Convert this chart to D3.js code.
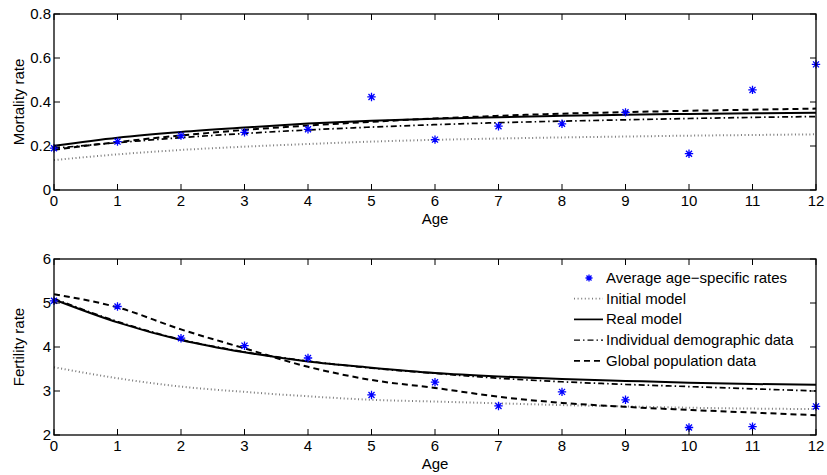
<!DOCTYPE html>
<html>
<head>
    <script src="https://d3js.org/d3.v7.min.js"></script>
    <style>
        body { margin: 0; background: #fff; }
        text { font-family: "Liberation Sans", Arial, sans-serif; font-size: 15px; fill: #000; }
    </style>
</head>
<body>
    <div id="chart"></div>
    <script>
        const ages = [0, 1, 2, 3, 4, 5, 6, 7, 8, 9, 10, 11, 12];

        // mortality panel
        const mortAvg = [0.19, 0.22, 0.247, 0.262, 0.276, 0.423, 0.229, 0.29, 0.301, 0.353, 0.165, 0.455, 0.571];
        const mortInitial = [0.136, 0.162, 0.182, 0.197, 0.209, 0.22, 0.228, 0.234, 0.239, 0.243, 0.247, 0.25, 0.253];
        const mortReal = [0.201, 0.238, 0.264, 0.284, 0.302, 0.315, 0.324, 0.331, 0.337, 0.342, 0.346, 0.349, 0.351];
        const mortIndividual = [0.19, 0.215, 0.238, 0.257, 0.273, 0.286, 0.297, 0.306, 0.313, 0.319, 0.325, 0.33, 0.334];
        const mortGlobal = [0.183, 0.218, 0.248, 0.273, 0.293, 0.31, 0.325, 0.337, 0.347, 0.354, 0.36, 0.365, 0.37];

        // fertility panel
        const fertAvg = [5.05, 4.92, 4.2, 4.03, 3.75, 2.91, 3.2, 2.66, 2.98, 2.8, 2.17, 2.19, 2.65];
        const fertInitial = [3.54, 3.29, 3.1, 2.98, 2.88, 2.8, 2.76, 2.72, 2.68, 2.65, 2.62, 2.6, 2.59];
        const fertReal = [5.08, 4.56, 4.16, 3.88, 3.67, 3.53, 3.41, 3.33, 3.27, 3.23, 3.19, 3.16, 3.14];
        const fertIndividual = [5.1, 4.58, 4.17, 3.89, 3.68, 3.52, 3.4, 3.29, 3.21, 3.15, 3.1, 3.05, 3.0];
        const fertGlobal = [5.2, 4.9, 4.4, 3.97, 3.55, 3.25, 3.07, 2.87, 2.73, 2.64, 2.57, 2.51, 2.45];

        const xTicks = ages;
        const mortTicks = [0, 0.2, 0.4, 0.6, 0.8];
        const fertTicks = [2, 3, 4, 5, 6];

        const legendLabels = ["Average age\u2212specific rates", "Initial model", "Real model",
            "Individual demographic data", "Global population data"];

        const width = 827, height = 475;
        const svg = d3.select('#chart').append('svg')
            .attr('width', width).attr('height', height);

        const styles = {
            initial: { stroke: '#7a7a7a', width: 2, dash: '1,2.6' },
            real: { stroke: '#000', width: 2, dash: null },
            individual: { stroke: '#000', width: 1.7, dash: '6,3,1.5,3' },
            global: { stroke: '#000', width: 2, dash: '6,4' }
        };

        function star(g, x, y, r) {
            const d = r * 0.72;
            g.append('path')
                .attr('d', `M${x - r},${y}H${x + r}M${x},${y - r}V${y + r}` +
                    `M${x - d},${y - d}L${x + d},${y + d}M${x - d},${y + d}L${x + d},${y - d}`)
                .attr('stroke', '#0000ff').attr('stroke-width', 1.3).attr('fill', 'none');
        }

        function panel(top, bottom, domain, yTicks, yFmt, ylabel, avg, series) {
            const left = 54, right = 816;
            const x = d3.scaleLinear().domain([0, 12]).range([left, right]);
            const y = d3.scaleLinear().domain(domain).range([bottom, top]);
            const g = svg.append('g');

            // curves
            const line = d3.line().x((d, i) => x(ages[i])).y(d => y(d)).curve(d3.curveMonotoneX);
            series.forEach(s => {
                const st = styles[s.key];
                g.append('path').datum(s.values)
                    .attr('d', line)
                    .attr('fill', 'none')
                    .attr('stroke', st.stroke)
                    .attr('stroke-width', st.width)
                    .attr('stroke-dasharray', st.dash);
            });

            // data points
            avg.forEach((v, i) => star(g, x(ages[i]), y(v), 4.2));

            // box and inward ticks
            g.append('rect').attr('x', left).attr('y', top)
                .attr('width', right - left).attr('height', bottom - top)
                .attr('fill', 'none').attr('stroke', '#000').attr('stroke-width', 1.3);

            const tickLen = 6;
            xTicks.forEach(t => {
                g.append('line').attr('x1', x(t)).attr('x2', x(t)).attr('y1', bottom).attr('y2', bottom - tickLen)
                    .attr('stroke', '#000');
                g.append('line').attr('x1', x(t)).attr('x2', x(t)).attr('y1', top).attr('y2', top + tickLen)
                    .attr('stroke', '#000');
                g.append('text').attr('x', x(t)).attr('y', bottom + 16)
                    .attr('text-anchor', 'middle').text(t);
            });
            yTicks.forEach(t => {
                g.append('line').attr('x1', left).attr('x2', left + tickLen).attr('y1', y(t)).attr('y2', y(t))
                    .attr('stroke', '#000');
                g.append('line').attr('x1', right).attr('x2', right - tickLen).attr('y1', y(t)).attr('y2', y(t))
                    .attr('stroke', '#000');
                g.append('text').attr('x', left - 3).attr('y', y(t) + 5)
                    .attr('text-anchor', 'end').text(yFmt(t));
            });

            g.append('text').attr('x', (left + right) / 2).attr('y', bottom + 34)
                .attr('text-anchor', 'middle').text('Age');
            g.append('text')
                .attr('transform', `translate(24,${(top + bottom) / 2}) rotate(-90)`)
                .attr('text-anchor', 'middle').text(ylabel);
            return g;
        }

        panel(14, 190, [0, 0.8], mortTicks, d => d === 0 ? '0' : d3.format('.1f')(d), 'Mortality rate', mortAvg, [
            { key: 'initial', values: mortInitial },
            { key: 'individual', values: mortIndividual },
            { key: 'global', values: mortGlobal },
            { key: 'real', values: mortReal }
        ]);

        panel(259, 435, [2, 6], fertTicks, d => d, 'Fertility rate', fertAvg, [
            { key: 'initial', values: fertInitial },
            { key: 'individual', values: fertIndividual },
            { key: 'global', values: fertGlobal },
            { key: 'real', values: fertReal }
        ]);

        // legend
        const lg = svg.append('g');
        const keys = [null, 'initial', 'real', 'individual', 'global'];
        legendLabels.forEach((lab, i) => {
            const yy = 278 + i * 20.7;
            if (keys[i] === null) {
                star(lg, 589, yy, 3.5);
            } else {
                const st = styles[keys[i]];
                lg.append('line').attr('x1', 574).attr('x2', 603).attr('y1', yy).attr('y2', yy)
                    .attr('stroke', st.stroke).attr('stroke-width', st.width - 0.3)
                    .attr('stroke-dasharray', st.dash);
            }
            lg.append('text').attr('x', 606).attr('y', yy + 5).text(lab);
        });
    </script>
</body>
</html>
